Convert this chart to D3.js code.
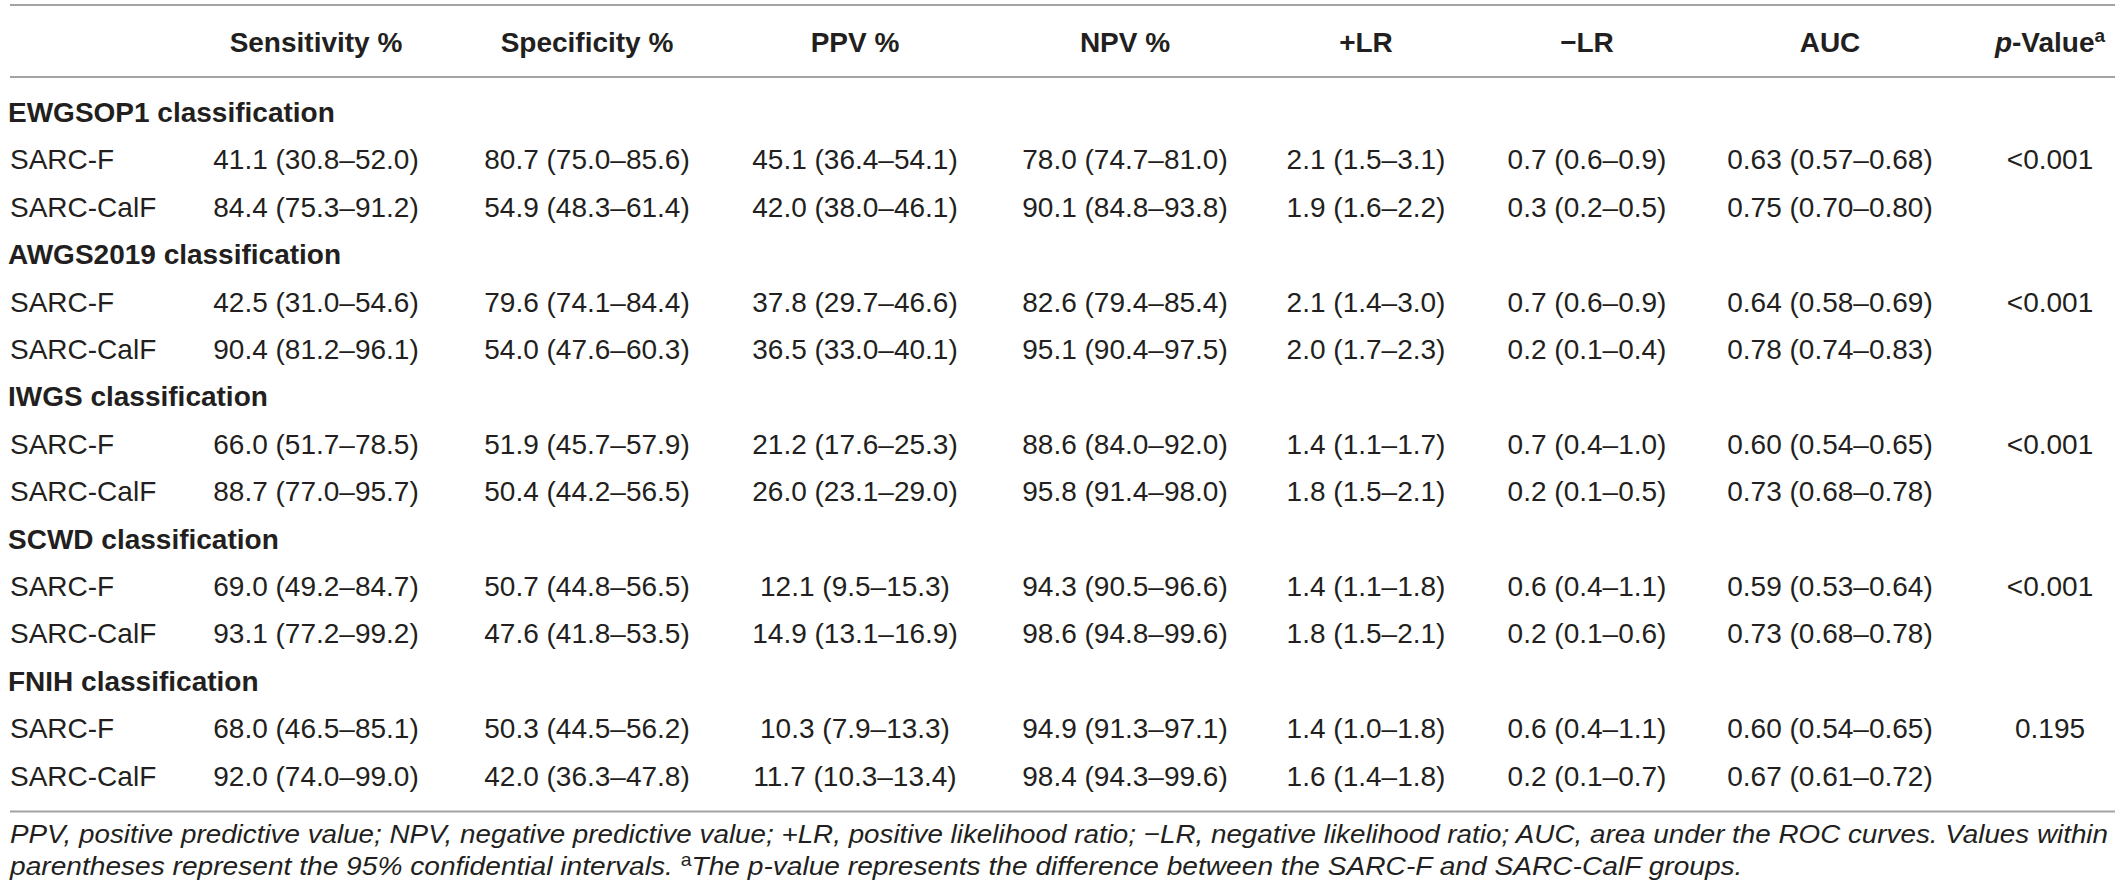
<!DOCTYPE html>
<html><head><meta charset="utf-8">
<script src="https://cdn.jsdelivr.net/npm/d3@7/dist/d3.min.js"></script>
<style>
html,body{margin:0;padding:0;background:#fff;}
svg text{font-family:"Liberation Sans",Arial,Helvetica,sans-serif;fill:#231f20;}
</style></head>
<body><svg id="chart" width="2122" height="896"></svg>
<script>
// ---------- DATA ----------
const columns = ["Sensitivity %","Specificity %","PPV %","NPV %","+LR","\u2212LR","AUC","p-Value"];
const groups = ["EWGSOP1 classification","AWGS2019 classification","IWGS classification","SCWD classification","FNIH classification"];
const methods = ["SARC-F","SARC-CalF"];
// each array: [SARC-F, SARC-CalF] for each group in order
const sensitivity = ["41.1 (30.8–52.0)","84.4 (75.3–91.2)","42.5 (31.0–54.6)","90.4 (81.2–96.1)","66.0 (51.7–78.5)","88.7 (77.0–95.7)","69.0 (49.2–84.7)","93.1 (77.2–99.2)","68.0 (46.5–85.1)","92.0 (74.0–99.0)"];
const specificity = ["80.7 (75.0–85.6)","54.9 (48.3–61.4)","79.6 (74.1–84.4)","54.0 (47.6–60.3)","51.9 (45.7–57.9)","50.4 (44.2–56.5)","50.7 (44.8–56.5)","47.6 (41.8–53.5)","50.3 (44.5–56.2)","42.0 (36.3–47.8)"];
const ppv = ["45.1 (36.4–54.1)","42.0 (38.0–46.1)","37.8 (29.7–46.6)","36.5 (33.0–40.1)","21.2 (17.6–25.3)","26.0 (23.1–29.0)","12.1 (9.5–15.3)","14.9 (13.1–16.9)","10.3 (7.9–13.3)","11.7 (10.3–13.4)"];
const npv = ["78.0 (74.7–81.0)","90.1 (84.8–93.8)","82.6 (79.4–85.4)","95.1 (90.4–97.5)","88.6 (84.0–92.0)","95.8 (91.4–98.0)","94.3 (90.5–96.6)","98.6 (94.8–99.6)","94.9 (91.3–97.1)","98.4 (94.3–99.6)"];
const posLR = ["2.1 (1.5–3.1)","1.9 (1.6–2.2)","2.1 (1.4–3.0)","2.0 (1.7–2.3)","1.4 (1.1–1.7)","1.8 (1.5–2.1)","1.4 (1.1–1.8)","1.8 (1.5–2.1)","1.4 (1.0–1.8)","1.6 (1.4–1.8)"];
const negLR = ["0.7 (0.6–0.9)","0.3 (0.2–0.5)","0.7 (0.6–0.9)","0.2 (0.1–0.4)","0.7 (0.4–1.0)","0.2 (0.1–0.5)","0.6 (0.4–1.1)","0.2 (0.1–0.6)","0.6 (0.4–1.1)","0.2 (0.1–0.7)"];
const auc = ["0.63 (0.57–0.68)","0.75 (0.70–0.80)","0.64 (0.58–0.69)","0.78 (0.74–0.83)","0.60 (0.54–0.65)","0.73 (0.68–0.78)","0.59 (0.53–0.64)","0.73 (0.68–0.78)","0.60 (0.54–0.65)","0.67 (0.61–0.72)"];
const pValues = ["<0.001","","<0.001","","<0.001","","<0.001","","0.195",""];
const footnote1 = "PPV, positive predictive value; NPV, negative predictive value; +LR, positive likelihood ratio; \u2212LR, negative likelihood ratio; AUC, area under the ROC curves. Values within";
const footnote2a = "parentheses represent the 95% confidential intervals. ";
const footnote2b = "The p-value represents the difference between the SARC-F and SARC-CalF groups.";

// ---------- LAYOUT ----------
const left = 10, right = 2115;
const colCenters = [316, 587, 855, 1125, 1366, 1587, 1830, 2050];
const svg = d3.select("#chart");
const metricCols = [sensitivity, specificity, ppv, npv, posLR, negLR, auc, pValues];

const x = d3.scaleOrdinal().domain(columns).range(colCenters);
const nRows = groups.length * 3;
const y = d3.scaleLinear().domain([0, nRows - 1]).range([122, 785.6]);

// build rows
const rows = [];
groups.forEach((g, gi) => {
  rows.push({type: "group", label: g});
  methods.forEach((m, mi) => {
    const k = gi * 2 + mi;
    rows.push({type: "data", label: m, values: metricCols.map(a => a[k])});
  });
});

// rules
const rules = [5, 77, 811.5];
svg.selectAll("line.rule").data(rules).join("line")
  .attr("x1", left).attr("x2", right).attr("y1", d => d).attr("y2", d => d)
  .attr("stroke", "#a3a3a3").attr("stroke-width", 2);

// header
const hdr = svg.append("g").attr("font-size", 28).attr("font-weight", "bold");
columns.forEach((c, i) => {
  const t = hdr.append("text").attr("x", x(c)).attr("y", 52).attr("text-anchor", "middle");
  if (c === "p-Value") {
    t.append("tspan").attr("font-style", "italic").text("p");
    t.append("tspan").text("-Value");
    t.append("tspan").attr("font-size", 19).attr("dy", -10).text("a");
  } else {
    t.text(c);
  }
});

// body
const body = svg.append("g").attr("font-size", 28);
rows.forEach((r, i) => {
  if (r.type === "group") {
    body.append("text").attr("x", left - 2).attr("y", y(i)).attr("font-weight", "bold").text(r.label);
  } else {
    body.append("text").attr("x", left).attr("y", y(i)).text(r.label);
    r.values.forEach((v, j) => {
      if (v) body.append("text").attr("x", x(columns[j])).attr("y", y(i)).attr("text-anchor", "middle").text(v);
    });
  }
});

// footnotes (condensed italic -> horizontally scaled)
const f1 = svg.append("text").attr("font-size", 26).attr("font-style", "italic").attr("x", 0).attr("y", 0).text(footnote1);
const s1 = 2099 / f1.node().getComputedTextLength();
f1.attr("transform", `translate(${left},843) scale(${s1},1)`);

const f2 = svg.append("text").attr("font-size", 26).attr("x", 0).attr("y", 0);
f2.append("tspan").attr("font-style", "italic").text(footnote2a);
f2.append("tspan").attr("font-size", 18).attr("dy", -9).text("a");
f2.append("tspan").attr("font-style", "italic").attr("dy", 9).text(footnote2b);
const w2 = f2.node().getBBox().width;
const s2 = (1744 - left) / w2;
f2.attr("transform", `translate(${left},875) scale(${s2},1)`);
</script>
</body></html>
